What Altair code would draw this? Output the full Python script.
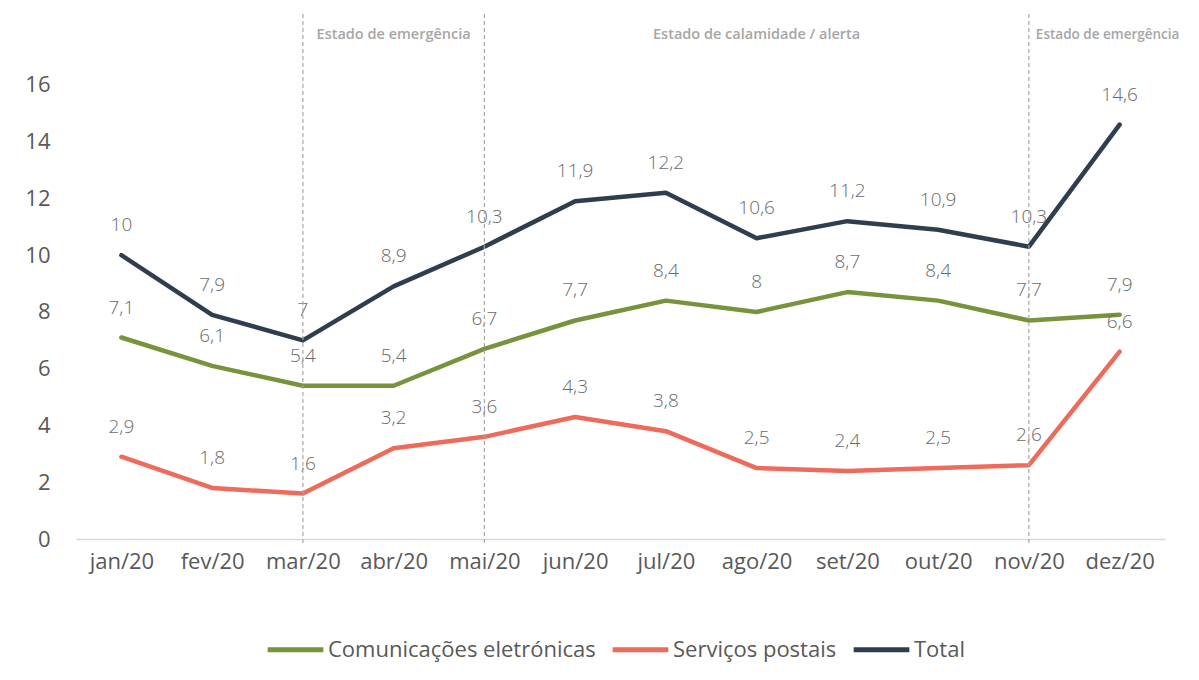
import altair as alt
import pandas as pd

months = ["jan/20", "fev/20", "mar/20", "abr/20", "mai/20", "jun/20",
          "jul/20", "ago/20", "set/20", "out/20", "nov/20", "dez/20"]
comunicacoes = [7.1, 6.1, 5.4, 5.4, 6.7, 7.7, 8.4, 8, 8.7, 8.4, 7.7, 7.9]
postais = [2.9, 1.8, 1.6, 3.2, 3.6, 4.3, 3.8, 2.5, 2.4, 2.5, 2.6, 6.6]
total = [10, 7.9, 7, 8.9, 10.3, 11.9, 12.2, 10.6, 11.2, 10.9, 10.3, 14.6]
series_names = ["Comunicações eletrónicas", "Serviços postais", "Total"]
series_colors = ["#77933C", "#EE6B5B", "#2F3E4E"]

rule_months = ["mar/20", "mai/20", "nov/20"]
ann_months = ["abr/20", "ago/20"]
ann_texts = ["Estado de emergência", "Estado de calamidade / alerta"]
ann_end_months = ["dez/20"]
ann_end_texts = ["Estado de emergência"]

rows = []
for name, vals in zip(series_names, [comunicacoes, postais, total]):
    for m, v in zip(months, vals):
        rows.append({"month": m, "series": name, "value": v,
                     "label": (f"{v:g}").replace(".", ",")})
df = pd.DataFrame(rows)

W, H = 1089, 525
FONT = "Open Sans"
GREY = "#595959"

x_enc = alt.X("month:N", sort=months, scale=alt.Scale(type="point", padding=0.5),
              axis=alt.Axis(title=None, labelFontSize=22, labelColor=GREY, labelFont=FONT,
                            ticks=False, domainColor="#D9D9D9", domainWidth=1.5,
                            labelPadding=12, labelAngle=0))
y_enc = alt.Y("value:Q", scale=alt.Scale(domain=[0, 18.5], nice=False),
              axis=alt.Axis(title=None, values=list(range(0, 17, 2)), grid=False,
                            domain=False, ticks=False, labelFontSize=22, labelColor=GREY,
                            labelFont=FONT, labelPadding=26))

base = alt.Chart(df)
lines = base.mark_line(strokeWidth=4.5, strokeCap="round", strokeJoin="round").encode(
    x=x_enc, y=y_enc,
    color=alt.Color("series:N", sort=series_names,
                    scale=alt.Scale(domain=series_names, range=series_colors),
                    legend=alt.Legend(title=None, orient="none", direction="horizontal",
                                      legendX=189, legendY=605,
                                      labelFontSize=22, labelColor=GREY, labelFont=FONT,
                                      labelLimit=0,
                                      symbolType="stroke", symbolStrokeWidth=5, symbolSize=3100,
                                      columnPadding=6, labelOffset=2)),
)
labels = base.mark_text(dy=-30, fontSize=19, color="#6B6B6B", font=FONT, fontWeight=300).encode(
    x=alt.X("month:N", sort=months), y="value:Q", text="label:N", detail="series:N")

rules = alt.Chart(pd.DataFrame({"month": rule_months})).mark_rule(
    color="#A6A6A6", strokeDash=[4, 3], strokeWidth=1.2).encode(
    x=alt.X("month:N", sort=months), y=alt.value(0), y2=alt.value(H + 6))

ann = alt.Chart(pd.DataFrame({"month": ann_months, "text": ann_texts})).mark_text(
    fontSize=14.5, fontWeight=600, color="#A6A6A6", font=FONT).encode(
    x=alt.X("month:N", sort=months), y=alt.value(21), text="text:N")
ann_end = alt.Chart(pd.DataFrame({"month": ann_end_months, "text": ann_end_texts})).mark_text(
    fontSize=13.5, fontWeight=600, color="#A6A6A6", font=FONT, dx=-12).encode(
    x=alt.X("month:N", sort=months), y=alt.value(21), text="text:N")

chart = alt.layer(lines, labels, rules, ann, ann_end).properties(
    width=W, height=H, background="white",
    autosize=alt.AutoSizeParams(type="none"),
    padding={"left": 68, "top": 6, "right": 18, "bottom": 128}
).configure_view(stroke=None)

chart.save("out.html", embed_options={"renderer": "svg", "actions": False})
